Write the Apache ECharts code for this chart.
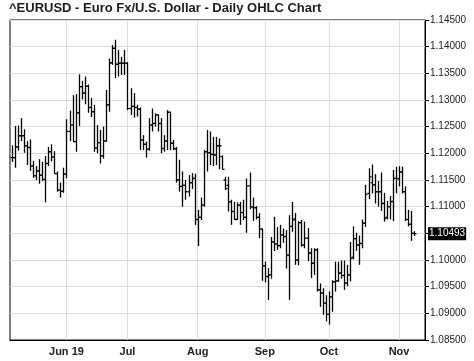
<!DOCTYPE html>
<html>
<head>
<meta charset="utf-8">
<script src="https://cdn.jsdelivr.net/npm/echarts@6/dist/echarts.min.js"></script>
<style>
html,body{margin:0;padding:0;background:#fff;}
#chart{width:474px;height:361px;}
</style>
</head>
<body>
<div id="chart"></div>
<script>
// Trading days (2019)
const dates = [
'05-08','05-09','05-10','05-13','05-14','05-15','05-16','05-17','05-20','05-21','05-22','05-23','05-24','05-27','05-28','05-29','05-30','05-31',
'06-03','06-04','06-05','06-06','06-07','06-10','06-11','06-12','06-13','06-14','06-17','06-18','06-19','06-20','06-21','06-24','06-25','06-26','06-27','06-28',
'07-01','07-02','07-03','07-04','07-05','07-08','07-09','07-10','07-11','07-12','07-15','07-16','07-17','07-18','07-19','07-22','07-23','07-24','07-25','07-26','07-29','07-30','07-31',
'08-01','08-02','08-05','08-06','08-07','08-08','08-09','08-12','08-13','08-14','08-15','08-16','08-19','08-20','08-21','08-22','08-23','08-26','08-27','08-28','08-29','08-30',
'09-02','09-03','09-04','09-05','09-06','09-09','09-10','09-11','09-12','09-13','09-16','09-17','09-18','09-19','09-20','09-23','09-24','09-25','09-26','09-27','09-30',
'10-01','10-02','10-03','10-04','10-07','10-08','10-09','10-10','10-11','10-14','10-15','10-16','10-17','10-18','10-21','10-22','10-23','10-24','10-25','10-28','10-29','10-30','10-31',
'11-01','11-04','11-05','11-06','11-07','11-08'
];

const open = [
1.1192,1.1192,1.1212,1.1233,1.1233,1.1214,1.1211,1.1176,1.1158,1.1167,
1.1159,1.1151,1.1181,1.1203,1.1193,1.1162,1.1131,1.1129,1.1161,1.1241,
1.1253,1.1222,1.1276,1.1325,1.1313,1.1326,1.1286,1.1278,1.1210,1.1220,
1.1195,1.1223,1.1291,1.1370,1.1397,1.1367,1.1369,1.1369,1.1369,1.1284,
1.1288,1.1286,1.1283,1.1225,1.1217,1.1208,1.1253,1.1256,1.1272,1.1256,
1.1209,1.1223,1.1277,1.1219,1.1208,1.1150,1.1138,1.1140,1.1128,1.1145,
1.1153,1.1076,1.1080,1.1103,1.1203,1.1201,1.1198,1.1197,1.1214,1.1194,
1.1150,1.1140,1.1109,1.1091,1.1076,1.1103,1.1089,1.1080,1.1139,1.1099,
1.1098,1.1080,1.1058,1.0989,1.0969,1.0972,1.1034,1.1030,1.1027,1.1047,
1.1044,1.1009,1.1063,1.1077,1.1000,1.1070,1.1028,1.1041,1.1013,1.0994,
1.1019,1.0944,1.0938,1.0919,1.0898,1.0931,1.0959,1.0961,1.0976,1.0971,
1.0957,1.0972,1.1005,1.1040,1.1028,1.1031,1.1069,1.1125,1.1145,1.1141,
1.1128,1.1128,1.1106,1.1080,1.1100,1.1110,1.1153,1.1152,1.1165,1.1128,
1.1076,1.1067,1.1050
];
const high = [
1.1215,1.1251,1.1252,1.1266,1.1245,1.1223,1.1226,1.1186,1.1176,1.1189,
1.1184,1.1195,1.1212,1.1217,1.1204,1.1166,1.1145,1.1173,1.1264,1.1280,
1.1309,1.1311,1.1348,1.1336,1.1344,1.1329,1.1304,1.1291,1.1253,1.1244,
1.1250,1.1319,1.1378,1.1403,1.1413,1.1394,1.1381,1.1394,1.1371,1.1322,
1.1313,1.1291,1.1286,1.1234,1.1222,1.1266,1.1284,1.1275,1.1273,1.1266,
1.1234,1.1281,1.1278,1.1225,1.1212,1.1188,1.1166,1.1150,1.1159,1.1163,
1.1162,1.1094,1.1117,1.1206,1.1244,1.1241,1.1231,1.1231,1.1228,1.1196,
1.1156,1.1156,1.1113,1.1109,1.1108,1.1109,1.1113,1.1153,1.1164,1.1117,
1.1101,1.1088,1.1059,1.0997,1.0985,1.1043,1.1081,1.1062,1.1066,1.1059,
1.1056,1.1084,1.1109,1.1088,1.1073,1.1075,1.1072,1.1060,1.1022,1.1022,
1.1022,1.0956,1.0947,1.0934,1.0941,1.0962,1.0997,1.0997,1.0999,1.0999,
1.0991,1.1034,1.1063,1.1051,1.1046,1.1076,1.1141,1.1172,1.1179,1.1161,
1.1148,1.1164,1.1126,1.1111,1.1120,1.1169,1.1175,1.1176,1.1175,1.1138,
1.1094,1.1092,1.1054
];
const low = [
1.1184,1.1173,1.1205,1.1223,1.1201,1.1178,1.1167,1.1154,1.1150,1.1143,
1.1148,1.1108,1.1176,1.1185,1.1162,1.1128,1.1117,1.1126,1.1153,1.1223,
1.1221,1.1203,1.1251,1.1301,1.1292,1.1276,1.1268,1.1203,1.1200,1.1181,
1.1190,1.1222,1.1278,1.1366,1.1341,1.1344,1.1347,1.1347,1.1281,1.1272,
1.1267,1.1269,1.1206,1.1206,1.1192,1.1205,1.1241,1.1250,1.1241,1.1200,
1.1203,1.1206,1.1206,1.1206,1.1145,1.1128,1.1100,1.1113,1.1119,1.1133,
1.1066,1.1026,1.1075,1.1100,1.1166,1.1178,1.1176,1.1178,1.1170,1.1170,
1.1131,1.1091,1.1066,1.1075,1.1075,1.1066,1.1075,1.1051,1.1095,1.1073,
1.1076,1.1041,1.0961,1.0958,1.0925,1.0965,1.1017,1.1019,1.1022,1.1032,
1.0984,1.0925,1.1053,1.0991,1.0990,1.1025,1.1022,1.0998,1.0966,1.0972,
1.0941,1.0912,1.0897,1.0885,1.0879,1.0903,1.0941,1.0959,1.0965,1.0944,
1.0951,1.0960,1.1001,1.1017,1.0991,1.1022,1.1062,1.1114,1.1125,1.1106,
1.1100,1.1092,1.1072,1.1076,1.1076,1.1073,1.1125,1.1138,1.1125,1.1073,
1.1063,1.1036,1.1045
];
const close = [
1.1192,1.1212,1.1233,1.1233,1.1214,1.1211,1.1176,1.1158,1.1167,1.1159,
1.1151,1.1181,1.1203,1.1193,1.1162,1.1131,1.1129,1.1161,1.1241,1.1253,
1.1222,1.1276,1.1325,1.1313,1.1326,1.1286,1.1278,1.1210,1.1220,1.1195,
1.1223,1.1291,1.1369,1.1397,1.1367,1.1369,1.1369,1.1369,1.1284,1.1288,
1.1286,1.1283,1.1225,1.1217,1.1208,1.1253,1.1256,1.1272,1.1256,1.1209,
1.1223,1.1277,1.1219,1.1209,1.1150,1.1138,1.1140,1.1128,1.1145,1.1153,
1.1076,1.1080,1.1103,1.1203,1.1201,1.1198,1.1197,1.1214,1.1214,1.1170,
1.1134,1.1109,1.1091,1.1076,1.1103,1.1089,1.1080,1.1139,1.1100,1.1098,
1.1080,1.1058,1.0989,1.0969,1.0972,1.1034,1.1030,1.1027,1.1047,1.1044,
1.1009,1.1063,1.1075,1.1000,1.1070,1.1028,1.1041,1.1013,1.0994,1.1019,
1.0944,1.0938,1.0919,1.0898,1.0931,1.0959,1.0961,1.0975,1.0971,1.0957,
1.0972,1.1003,1.1040,1.1028,1.1031,1.1069,1.1123,1.1156,1.1141,1.1128,
1.1128,1.1106,1.1078,1.1100,1.1109,1.1153,1.1153,1.1165,1.1128,1.1076,
1.1067,1.1050,1.10493
];

const monthDates = ['06-03','07-01','08-01','09-02','10-01','11-01'];
const monthLabels = ['Jun 19','Jul','Aug','Sep','Oct','Nov'];

const FONT = '"Liberation Sans", Arial, Helvetica, sans-serif';
const lastClose = close[close.length - 1];
const ohlc = dates.map((d, i) => [i, open[i], high[i], low[i], close[i]]);

const chart = echarts.init(document.getElementById('chart'), null, {renderer: 'canvas'});
chart.setOption({
  animation: false,
  backgroundColor: '#fff',
  title: {
    text: '^EURUSD - Euro Fx/U.S. Dollar - Daily OHLC Chart',
    left: 9, top: 2, padding: 0,
    textStyle: {fontFamily: FONT, fontSize: 13, fontWeight: 'bold', color: '#1c1c1c'}
  },
  grid: {left: 10, right: 49, top: 20, bottom: 21, show: true, borderColor: '#000', borderWidth: 1, containLabel: false},
  xAxis: {
    type: 'category', data: dates, boundaryGap: true, max: 135,
    axisLine: {show: true, lineStyle: {color: '#000', width: 1}},
    axisTick: {show: false},
    splitLine: {show: false},
    axisLabel: {
      show: true, margin: 6,
      interval: (idx, val) => monthDates.indexOf(val) >= 0,
      formatter: (val) => { const k = monthDates.indexOf(val); return k >= 0 ? monthLabels[k] : ''; },
      fontFamily: FONT, fontSize: 11, fontWeight: 'bold', color: '#222'
    }
  },
  yAxis: {
    type: 'value', position: 'right', min: 1.085, max: 1.145, interval: 0.005, scale: true,
    axisLine: {show: true, lineStyle: {color: '#000', width: 1}},
    axisTick: {show: true, inside: false, length: 4, lineStyle: {color: '#000'}},
    splitLine: {show: true, lineStyle: {color: '#dcdcdc', width: 1}},
    axisLabel: {
      margin: 5, fontFamily: FONT, fontSize: 10, color: '#222', hideOverlap: false,
      formatter: (v) => { const s = v.toFixed(5); return s === '1.10500' ? '' : s; }
    }
  },
  series: [
    {
      type: 'line', data: [], z: 1, silent: true,
      markLine: {
        silent: true, z: 1, symbol: ['none','none'], animation: false,
        label: {show: false},
        lineStyle: {color: '#dcdcdc', type: 'solid', width: 1},
        data: monthDates.map(d => ({xAxis: d}))
      }
    },
    {
      type: 'custom', z: 10,
      data: ohlc,
      encode: {x: 0, y: [1, 2, 3, 4]},
      renderItem: function (params, api) {
        const idx = api.value(0);
        const pH = api.coord([idx, api.value(2)]);
        const pL = api.coord([idx, api.value(3)]);
        const pO = api.coord([idx, api.value(1)]);
        const pC = api.coord([idx, api.value(4)]);
        const x = Math.round(pH[0]) + 0.5;
        const t = 2;
        const st = {stroke: '#000', lineWidth: 1.3};
        return {type: 'group', children: [
          {type: 'line', shape: {x1: x, y1: pH[1], x2: x, y2: pL[1]}, style: st},
          {type: 'line', shape: {x1: x - t, y1: pO[1], x2: x, y2: pO[1]}, style: st},
          {type: 'line', shape: {x1: x, y1: pC[1], x2: x + t, y2: pC[1]}, style: st}
        ]};
      },
      markLine: {
        silent: true, z: 12, precision: 5, symbol: ['none','none'], animation: false,
        lineStyle: {color: 'rgba(0,0,0,0)', width: 1, opacity: 1},
        label: {
          show: true, position: 'end', distance: 3,
          formatter: lastClose.toFixed(5),
          backgroundColor: '#000', color: '#fff', padding: [2, 1, 1, 1],
          fontFamily: FONT, fontSize: 10, opacity: 1
        },
        data: [{yAxis: lastClose}]
      }
    }
  ]
});
</script>
</body>
</html>
